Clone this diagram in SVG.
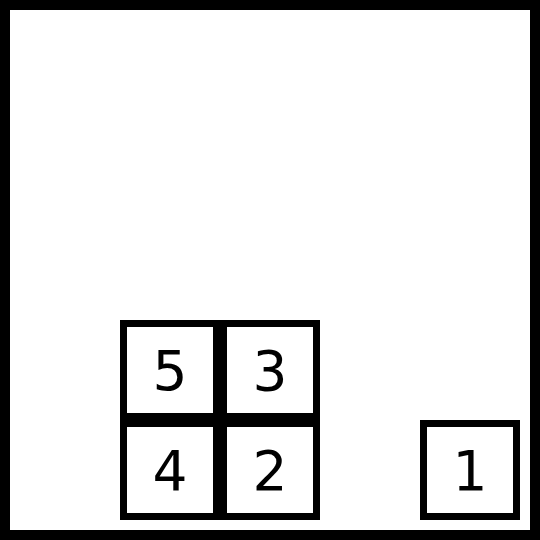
<svg xmlns="http://www.w3.org/2000/svg" width="540" height="540" viewBox="0 0 540 540">
<style>
.box{fill:#fff;stroke:#000;stroke-width:7}
.lbl{font-family:"DejaVu Sans",sans-serif;font-size:55px;text-anchor:middle;fill:#000}
</style>
<rect x="0" y="0" width="540" height="540" fill="#fff"/>
<rect x="5" y="5" width="530" height="530" fill="none" stroke="#000" stroke-width="10"/>
<g id="connectors"></g>
<g id="node5"><rect class="box" x="123.5" y="323.5" width="93" height="93"/><text class="lbl" x="170" y="390">5</text></g>
<g id="node3"><rect class="box" x="223.5" y="323.5" width="93" height="93"/><text class="lbl" x="270" y="390">3</text></g>
<g id="node4"><rect class="box" x="123.5" y="423.5" width="93" height="93"/><text class="lbl" x="170" y="490">4</text></g>
<g id="node2"><rect class="box" x="223.5" y="423.5" width="93" height="93"/><text class="lbl" x="270" y="490">2</text></g>
<g id="node1"><rect class="box" x="423.5" y="423.5" width="93" height="93"/><text class="lbl" x="470" y="490">1</text></g>
</svg>
